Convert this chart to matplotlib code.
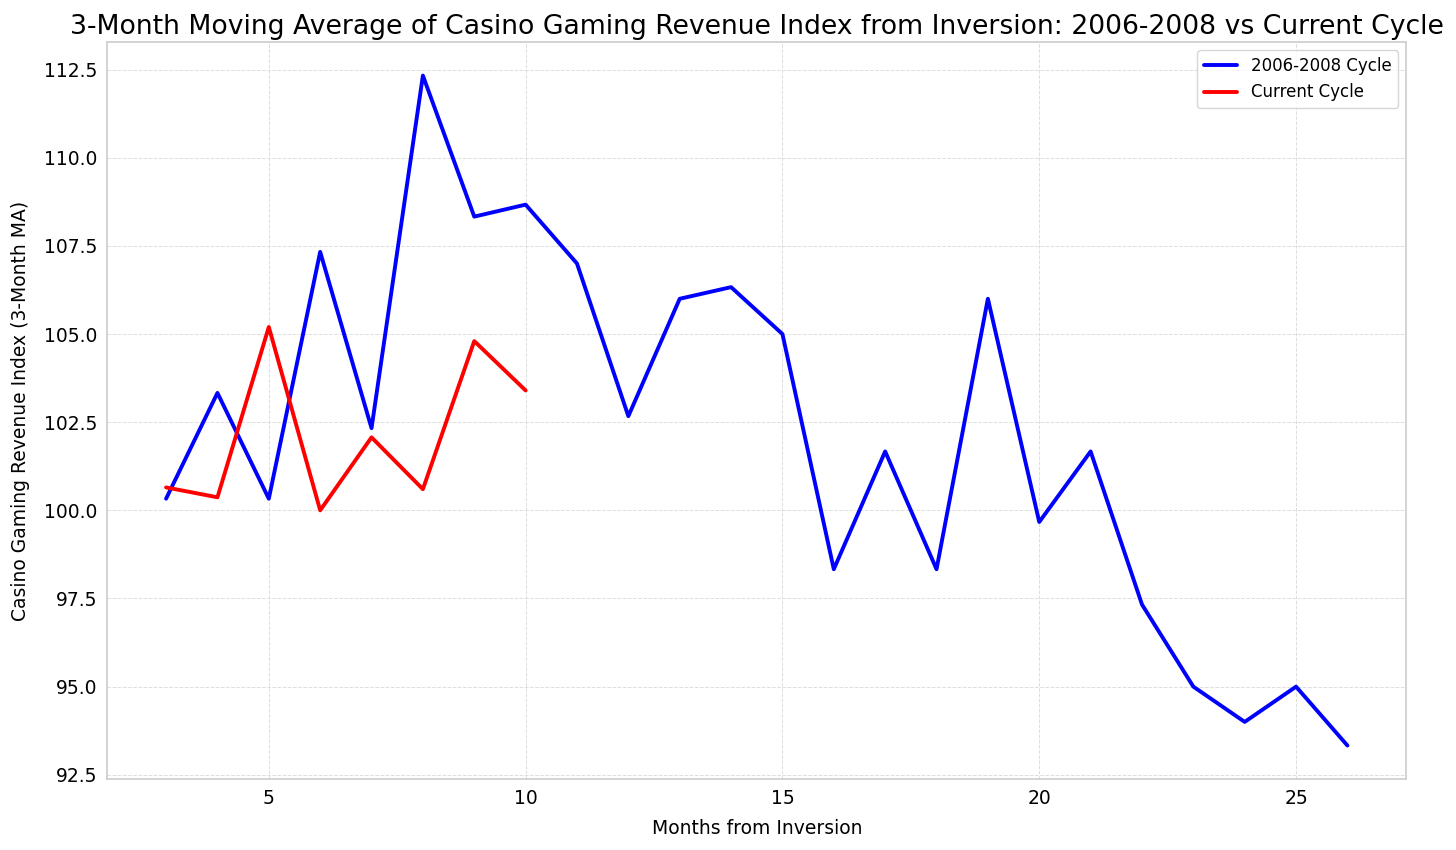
import matplotlib
matplotlib.use('Agg')
import matplotlib.pyplot as plt
import seaborn as sns

# 3개월 이동평균, 역전 이후 개월 수 기준
months_old = list(range(3, 27))
ma_old = [100.33, 103.33, 100.33, 107.33, 102.33, 112.33, 108.33, 108.67, 107.0, 102.67,
          106.0, 106.33, 105.0, 98.33, 101.67, 98.33, 106.0, 99.67, 101.67, 97.33,
          95.0, 94.0, 95.0, 93.33]
months_cur = list(range(3, 11))
ma_cur = [100.65, 100.37, 105.2, 100.0, 102.07, 100.6, 104.8, 103.4]

sns.set_style('whitegrid')
plt.rcParams['font.family'] = ['DejaVu Sans']
plt.rcParams['text.color'] = 'black'
plt.rcParams['axes.labelcolor'] = 'black'
plt.rcParams['xtick.color'] = 'black'
plt.rcParams['ytick.color'] = 'black'

fig = plt.figure(figsize=(14.56, 8.5), dpi=100)
ax = fig.add_axes([0.0735, 0.0835, 0.8925, 0.867])
ax.plot(months_old, ma_old, color='blue', lw=2.8, label='2006-2008 Cycle')
ax.plot(months_cur, ma_cur, color='red', lw=2.8, label='Current Cycle')

ax.set_title('3-Month Moving Average of Casino Gaming Revenue Index from Inversion: 2006-2008 vs Current Cycle',
             fontsize=19.2)
ax.set_xlabel('Months from Inversion', fontsize=13.5, labelpad=8)
ax.set_ylabel('Casino Gaming Revenue Index (3-Month MA)', fontsize=13.5, labelpad=10)
ax.tick_params(labelsize=13.5)
ax.set_xticks([5, 10, 15, 20, 25])
ax.grid(True, ls='--', lw=0.7, color='#dddddd')
for s in ax.spines.values():
    s.set_color('#cccccc'); s.set_linewidth(1.2)
ax.legend(loc='upper right', fontsize=12, frameon=True)

fig.savefig('out.png', dpi=100)
